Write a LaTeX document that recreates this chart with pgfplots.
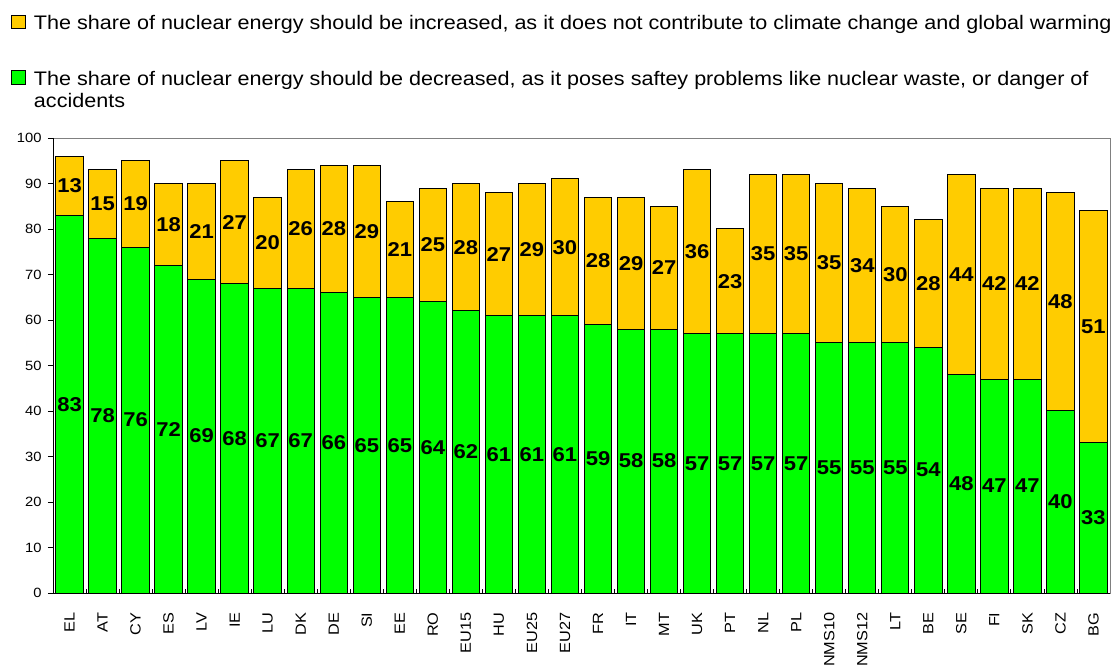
\documentclass[border=0pt]{standalone}
\usepackage{pgfplots}
\pgfplotsset{compat=1.18}
\usepackage{pgfplotstable}
\usepackage{fontspec}
\setmainfont{Liberation Sans}[FakeStretch=1.1]
\definecolor{ylw}{HTML}{FFCC00}
\definecolor{grn}{HTML}{00FF00}
\pgfplotstableread{
x c g y
0 EL 83 13
1 AT 78 15
2 CY 76 19
3 ES 72 18
4 LV 69 21
5 IE 68 27
6 LU 67 20
7 DK 67 26
8 DE 66 28
9 SI 65 29
10 EE 65 21
11 RO 64 25
12 EU15 62 28
13 HU 61 27
14 EU25 61 29
15 EU27 61 30
16 FR 59 28
17 IT 58 29
18 MT 58 27
19 UK 57 36
20 PT 57 23
21 NL 57 35
22 PL 57 35
23 NMS10 55 35
24 NMS12 55 34
25 LT 55 30
26 BE 54 28
27 SE 48 44
28 FI 47 42
29 SK 47 42
30 CZ 40 48
31 BG 33 51
}\data
\pgfplotsset{
  common/.style={
    at={(0,0)}, anchor=south west,
    scale only axis, width=1057bp, height=455bp,
    xmin=-0.5, xmax=31.5, ymin=0, ymax=100,
    enlargelimits=false,
  },
}
\begin{document}
\begin{tikzpicture}
\useasboundingbox (-53bp,-75bp) rectangle (1066bp,593bp);
\begin{axis}[
  common,
  ybar stacked, bar width=0.83,
  xtick=data, xticklabels from table={\data}{c},
  minor xtick={-0.5,0.5,...,31.5},
  ytick={0,10,...,100},
  tick pos=left,
  tick align=outside,
  major tick length=5bp, minor tick length=4bp,
  major x tick style={draw=none},
  minor x tick style={black, line width=0.8bp, yshift=4bp},
  y tick style={black, line width=0.8bp},
  /pgf/number format/assume math mode=true,
  yticklabel style={font=\fontsize{13.4bp}{15bp}\selectfont, text=black, xshift=-3bp},
  xticklabel style={font=\fontsize{14.8bp}{16bp}\selectfont, rotate=90, anchor=east, text=black},
  xticklabel shift=11bp,
  axis line style={draw=gray, line width=0.8bp},
  after end axis/.code={\draw[black, line width=1bp] (rel axis cs:0,1) |- (rel axis cs:1,0);},
  reverse legend,
  legend cell align=left,
  legend style={draw=none, fill=none, inner sep=0pt,
    at={(axis description cs:0,1)}, anchor=north west, xshift=-42bp, yshift=125bp,
    font=\fontsize{19.6bp}{22bp}\selectfont,
    cells={inner sep=0pt, align=left, anchor=base west},
    column sep=6bp, row sep=36bp},
]
\addplot[fill=grn, draw=black, line width=1bp,
  legend image code/.code={\draw[fill=grn, draw=black, line width=0.8bp] (0bp,22.8bp) rectangle (14bp,36.4bp);}
] table[x=x, y=g] {\data};
\addlegendentry{The share of nuclear energy should be decreased, as it poses saftey problems like nuclear waste, or danger of\\accidents}
\addplot[fill=ylw, draw=black, line width=1bp,
  legend image code/.code={\draw[fill=ylw, draw=black, line width=0.8bp] (0bp,0.8bp) rectangle (14bp,14.4bp);}
] table[x=x, y=y] {\data};
\addlegendentry{The share of nuclear energy should be increased, as it does not contribute to climate change and global warming}
\end{axis}
\begin{axis}[
  common, hide axis,
  nodes near coords, point meta=explicit symbolic,
  every node near coord/.append style={anchor=center,
     font=\fontsize{20bp}{22bp}\selectfont\bfseries, text=black},
]
\addplot[draw=none, mark=none] table[x=x, y expr=\thisrow{g}/2, meta=g] {\data};
\addplot[draw=none, mark=none] table[x=x, y expr=\thisrow{g}+\thisrow{y}/2, meta=y] {\data};
\end{axis}
\end{tikzpicture}
\end{document}
